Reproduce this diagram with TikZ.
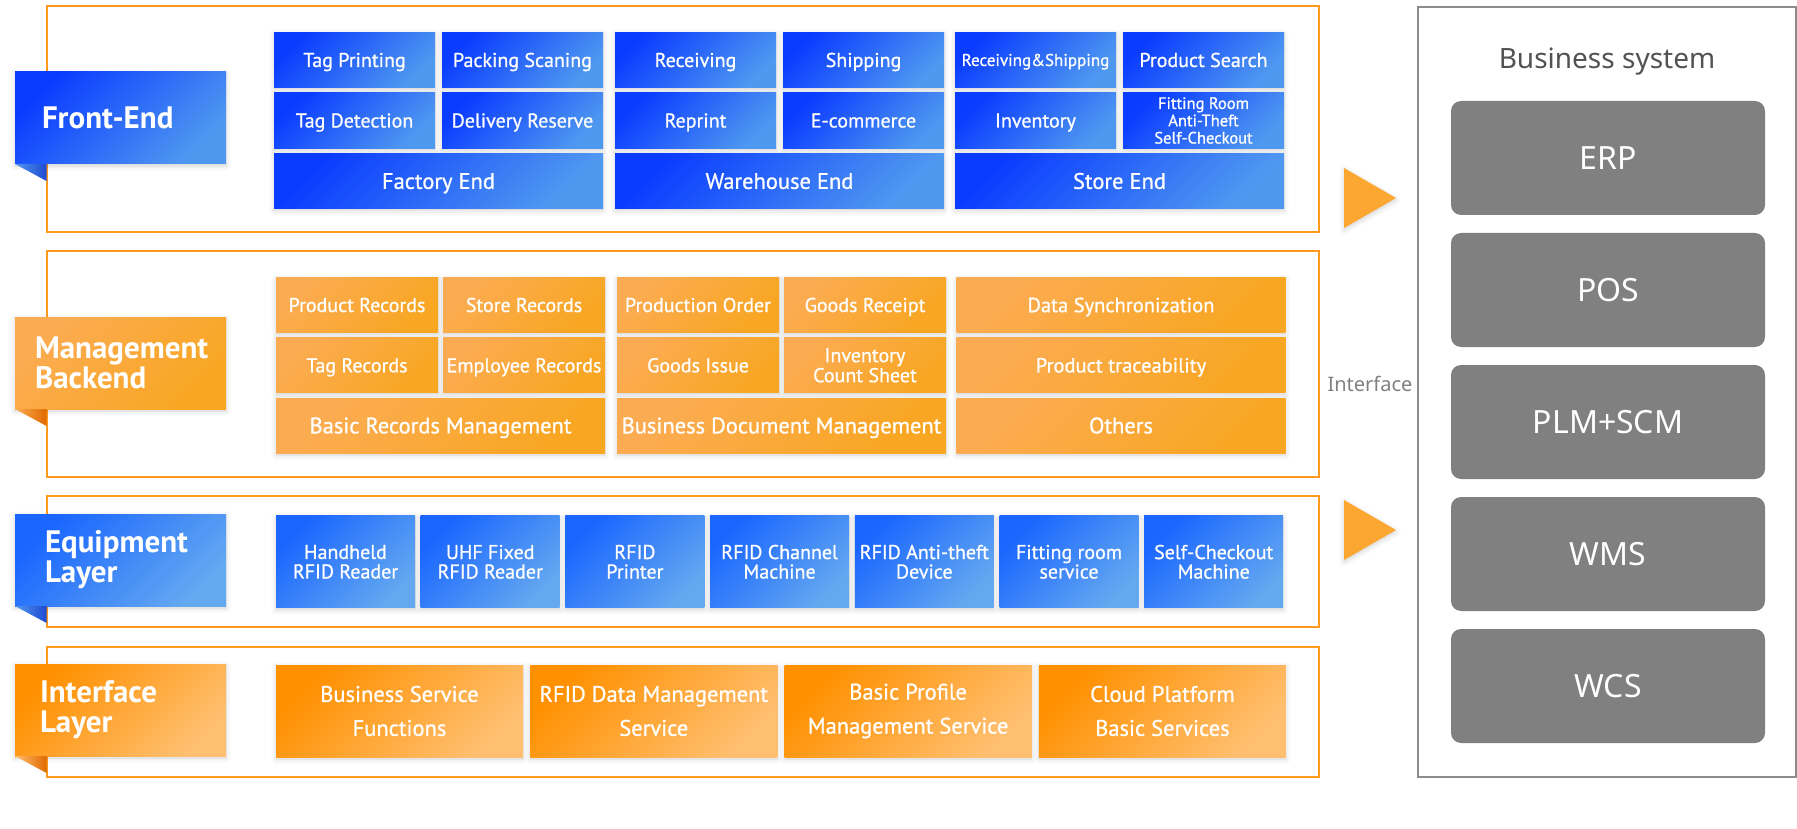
\documentclass[tikz,border=0pt]{standalone}
\usepackage{fontspec}
\setmainfont{PT Sans}
\newfontfamily\medsans{PT Sans}[FakeBold=0.8]
\newfontfamily\notosans{Noto Sans}
\usetikzlibrary{shadows.blur}
\definecolor{feA}{HTML}{0A3CFF}
\definecolor{feB}{HTML}{4F98F0}
\definecolor{eqA}{HTML}{1A66FF}
\definecolor{eqB}{HTML}{64A8F0}
\definecolor{mbA}{HTML}{FBAC52}
\definecolor{mbB}{HTML}{F9A622}
\definecolor{ifA}{HTML}{FF9000}
\definecolor{ifB}{HTML}{FFBF70}
\definecolor{frameor}{HTML}{FF9A1E}
\definecolor{sysgray}{HTML}{808080}
\definecolor{sysline}{HTML}{8C8C8C}
\definecolor{arrowor}{HTML}{FDA733}
\definecolor{foldbl}{HTML}{1F4AD0}
\definecolor{foldor}{HTML}{E06A00}
\newcommand\fsz[2]{\fontsize{#1}{#2}\selectfont}
\tikzset{
  cell/.style={inner sep=0pt, outer sep=0pt, align=center, text=white},
  oneline/.style={text height=#1, text depth=1pt},
  manyline/.style={text height=, text depth=},
  glow/.style={blur shadow={shadow xshift=0pt, shadow yshift=-2pt, shadow blur radius=5pt, shadow opacity=18}},
  fe/.style={cell, oneline=15pt, glow, left color=feA, right color=feB, shading angle=45, minimum width=161pt, minimum height=55.5pt, font=\medsans\fsz{20}{22}},
  fewide/.style={fe, oneline=16.75pt, minimum width=329pt, font=\medsans\fsz{22.5}{24}},
  mb/.style={cell, oneline=15pt, glow, left color=mbA, right color=mbB, shading angle=45, minimum width=162pt, minimum height=55pt, font=\medsans\fsz{20}{20}},
  mbwide/.style={mb, oneline=16.75pt, minimum width=329pt, font=\medsans\fsz{22.5}{24}},
  eq/.style={cell, glow, left color=eqA, right color=eqB, shading angle=45, minimum width=139pt, minimum height=92pt, font=\medsans\fsz{20}{19.5}},
  ifc/.style={cell, glow, left color=ifA, right color=ifB, shading angle=45, minimum width=247pt, minimum height=92pt, font=\medsans\fsz{22.5}{34}},
  layerlabel/.style 2 args={cell, glow, align=left, minimum height=92pt, inner xsep=#1, text width=#2, font=\bfseries\fsz{31}{30}},
  layerframe/.style={draw=frameor, line width=2pt, minimum width=1272.5pt, inner sep=0pt, outer sep=0pt},
  sysframe/.style={draw=sysline, line width=2pt, minimum width=378pt, minimum height=770pt, inner sep=0pt, outer sep=0pt},
  sysbox/.style={fill=sysgray, rounded corners=10pt, minimum width=314pt, minimum height=114pt, inner sep=0pt, outer sep=0pt, text=white, font=\notosans\fsz{32}{34}},
}
\begin{document}
\begin{tikzpicture}[x=1pt,y=-1pt]
\useasboundingbox (0,0) rectangle (1797,829);

\node[layerframe, minimum height=226pt] (fe-frame) at (682.75,119) {};
\node[layerframe, minimum height=226pt] (mb-frame) at (682.75,363.7) {};
\node[layerframe, minimum height=131pt] (eq-frame) at (682.75,561.2) {};
\node[layerframe, minimum height=130pt] (if-frame) at (682.75,711.7) {};
\node[sysframe] (sys-frame) at (1606.7,391.85) {};

\node[layerlabel={27pt}{157pt}, left color=feA, right color=feB, shading angle=45] (fe-label) at (120.5,118) {Front-End};
\node[layerlabel={20pt}{171pt}, left color=mbA, right color=mbB, shading angle=45] (mb-label) at (120.5,363) {Management\\Backend};
\node[layerlabel={30pt}{151pt}, left color=eqA, right color=eqB, shading angle=45] (eq-label) at (120.5,560) {Equipment\\Layer};
\node[layerlabel={25pt}{161pt}, left color=ifA, right color=ifB, shading angle=45] (if-label) at (120.5,710) {Interface\\Layer};
\shade[left color=feB, right color=foldbl] (fe-label.south west) -- (fe-label.south west -| fe-frame.west) -- ++(0,17) -- cycle;
\shade[left color=mbA, right color=foldor] (mb-label.south west) -- (mb-label.south west -| mb-frame.west) -- ++(0,17) -- cycle;
\shade[left color=feB, right color=foldbl] (eq-label.south west) -- (eq-label.south west -| eq-frame.west) -- ++(0,17) -- cycle;
\shade[left color=ifB, right color=foldor] (if-label.south west) -- (if-label.south west -| if-frame.west) -- ++(0,17) -- cycle;

\node[fe] (fe-tagprint) at (354.5,60) {Tag Printing};
\node[fe] (fe-packscan) at (522.5,60) {Packing Scaning};
\node[fe] (fe-tagdetect) at (354.5,120.5) {Tag Detection};
\node[fe] (fe-delivery) at (522.5,120.5) {Delivery Reserve};
\node[fewide] (fe-factory) at (438.5,181) {Factory End};
\node[fe] (fe-receiving) at (695.5,60) {Receiving};
\node[fe] (fe-shipping) at (863.5,60) {Shipping};
\node[fe] (fe-reprint) at (695.5,120.5) {Reprint};
\node[fe] (fe-ecommerce) at (863.5,120.5) {E-commerce};
\node[fewide] (fe-warehouse) at (779.5,181) {Warehouse End};
\node[fe, oneline=12.9pt, font=\medsans\fsz{17}{18}] (fe-recship) at (1035.5,60) {Receiving\&Shipping};
\node[fe] (fe-search) at (1203.5,60) {Product Search};
\node[fe] (fe-inventory) at (1035.5,120.5) {Inventory};
\node[fe, manyline, font=\medsans\fsz{16.5}{17.3}] (fe-fitting) at (1203.5,120.5) {Fitting Room\\Anti-Theft\\Self-Checkout};
\node[fewide] (fe-store) at (1119.5,181) {Store End};

\node[mb] (mb-product) at (357,305) {Product Records};
\node[mb] (mb-store) at (524,305) {Store Records};
\node[mb] (mb-tag) at (357,365.3) {Tag Records};
\node[mb] (mb-employee) at (524,365.3) {Employee Records};
\node[mbwide] (mb-basic) at (440.5,425.5) {Basic Records Management};
\node[mb] (mb-order) at (698,305) {Production Order};
\node[mb] (mb-receipt) at (865,305) {Goods Receipt};
\node[mb] (mb-issue) at (698,365.3) {Goods Issue};
\node[mb, manyline] (mb-count) at (865,365.3) {Inventory\\Count Sheet};
\node[mbwide] (mb-document) at (781.5,425.5) {Business Document Management};
\node[mbwide, oneline=15.35pt, font=\medsans\fsz{20.5}{21}] (mb-sync) at (1121,305) {Data Synchronization};
\node[mbwide, oneline=15.35pt, font=\medsans\fsz{20.5}{21}] (mb-trace) at (1121,365.3) {Product traceability};
\node[mbwide] (mb-others) at (1121,425.5) {Others};

\node[eq] (eq-handheld) at (345.5,561.8) {Handheld\\RFID Reader};
\node[eq] (eq-fixed) at (490.2,561.8) {UHF Fixed\\RFID Reader};
\node[eq] (eq-printer) at (634.9,561.8) {RFID\\Printer};
\node[eq] (eq-channel) at (779.6,561.8) {RFID Channel\\Machine};
\node[eq] (eq-antitheft) at (924.3,561.8) {RFID Anti-theft\\Device};
\node[eq] (eq-fitting) at (1069,561.8) {Fitting room\\service};
\node[eq] (eq-checkout) at (1213.7,561.8) {Self-Checkout\\Machine};

\node[ifc] (if-business) at (399.5,711) {Business Service\\Functions};
\node[ifc] (if-rfiddata) at (653.8,711) {RFID Data Management\\Service};
\node[ifc] (if-profile) at (908.1,711) {Basic Profile\\Management Service};
\node[ifc] (if-cloud) at (1162.4,711) {Cloud Platform\\Basic Services};

\fill[arrowor, glow] (1344,168) -- (1396,198) -- (1344,228) -- cycle;
\fill[arrowor, glow] (1344,500) -- (1396,530) -- (1344,560) -- cycle;
\node[text=sysgray, font=\notosans\fsz{20}{22}] (if-text) at (1370,384) {Interface};

\node[text=black!68, font=\notosans\fsz{28}{30}] (sys-title) at (1607,62) {Business system};
\node[sysbox] (sys-erp) at (1608,158) {ERP};
\node[sysbox] (sys-pos) at (1608,290) {POS};
\node[sysbox] (sys-plm) at (1608,422) {PLM+SCM};
\node[sysbox] (sys-wms) at (1608,554) {WMS};
\node[sysbox] (sys-wcs) at (1608,686) {WCS};
\end{tikzpicture}
\end{document}
